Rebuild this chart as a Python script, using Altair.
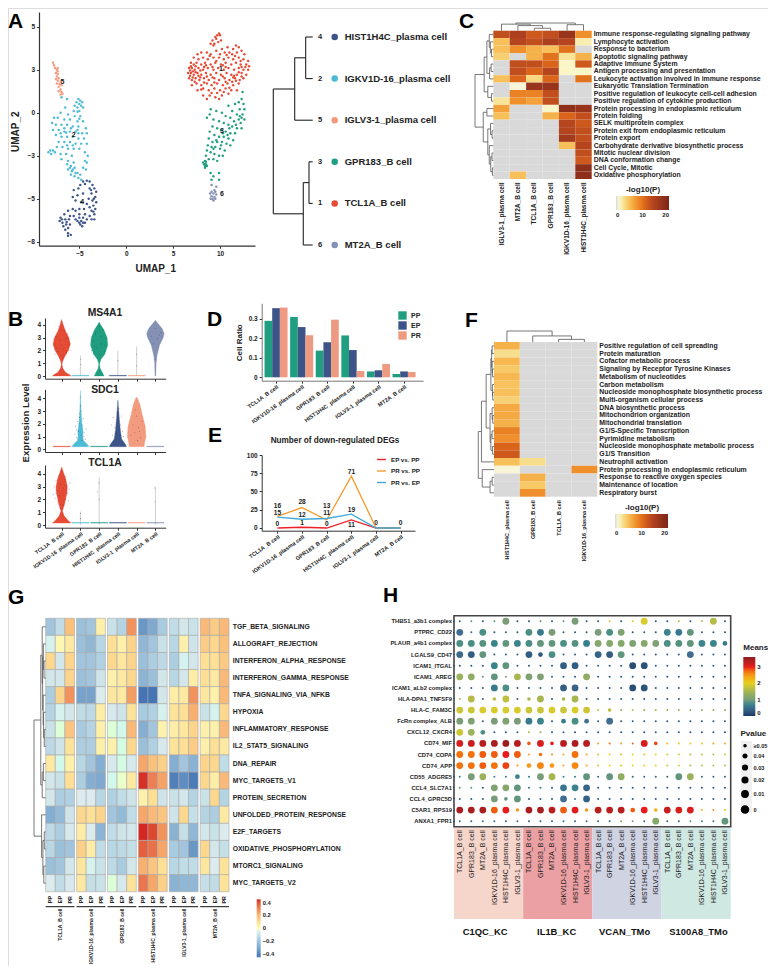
import json
import altair as alt
import pandas as pd

FONT = "Liberation Sans"
W, H = 760, 958
INK = "#222222"

CELLS = ["TCL1A_B cell", "IGKV1D-16_plasma cell", "GPR183_B cell",
         "HIST1H4C_plasma cell", "IGLV3-1_plasma cell", "MT2A_B cell"]
CELL_COLORS = ["#E64B35", "#4DBBD5", "#1F9E80", "#3C5488", "#F39B7F", "#8491B4"]

# ---------- A: UMAP ----------
U_TCL1A = [(9.9,4.6),(9.7,4.5),(10.0,4.5),(9.5,4.4),(9.2,4.2),(9.6,4.3),(10.1,4.2),(9.0,4.0),(9.4,4.0),(9.8,4.1),(9.3,3.9),
 (11.7,3.9),(12.0,3.8),(11.4,3.7),(10.2,3.7),(10.8,3.8),(9.6,3.6),(12.3,3.6),(11.0,3.5),(11.8,3.5),(10.5,3.5),(8.0,3.5),(8.6,3.5),(9.0,3.4),(7.6,3.4),(12.6,3.4),
 (7.2,3.2),(7.7,3.1),(8.2,3.2),(8.7,3.1),(9.3,3.2),(9.9,3.2),(10.4,3.1),(10.9,3.2),(11.4,3.1),(12.0,3.2),(12.5,3.1),(13.0,3.0),
 (6.9,2.9),(7.2,2.8),(7.5,2.9),(8.0,2.8),(8.4,2.9),(9.0,2.8),(9.5,2.9),(10.1,2.8),(10.6,2.9),(11.2,2.8),(11.7,2.9),(12.2,2.8),(12.8,2.8),(13.1,2.7),
 (6.7,2.6),(7.0,2.6),(7.3,2.5),(7.7,2.6),(8.2,2.5),(8.7,2.6),(9.3,2.5),(9.8,2.6),(10.4,2.5),(10.9,2.6),(11.5,2.5),(12.0,2.6),(12.5,2.5),(13.0,2.5),
 (6.6,2.3),(6.9,2.3),(7.2,2.2),(7.6,2.3),(8.0,2.2),(8.5,2.3),(9.0,2.2),(9.6,2.3),(10.1,2.2),(10.7,2.3),(11.2,2.2),(11.8,2.2),(12.3,2.3),(12.8,2.2),
 (6.7,2.0),(7.0,1.9),(7.4,2.0),(7.8,1.9),(8.3,2.0),(8.8,1.9),(9.4,2.0),(9.9,1.9),(10.5,2.0),(11.0,1.9),(11.6,2.0),(12.1,1.9),(12.5,2.0),
 (7.0,1.6),(7.5,1.7),(8.0,1.6),(8.6,1.7),(9.1,1.6),(9.7,1.7),(10.3,1.6),(10.8,1.7),(11.4,1.6),(12.0,1.7),
 (7.6,1.3),(8.2,1.4),(8.8,1.3),(9.4,1.4),(10.0,1.3),(10.6,1.4),(11.2,1.3),(11.8,1.3),
 (8.2,1.0),(8.9,1.0),(9.5,0.9),(10.2,1.0),(10.9,1.1),(8.6,0.8),(9.9,0.8),
 (6.8,2.45),(7.1,2.4),(7.4,2.7),(6.8,2.15),(7.1,2.05),(7.4,2.35),(6.9,2.7),(7.7,2.15),(7.9,2.45),(8.3,2.65),(11.5,2.15),(12.0,2.35),(11.3,1.8),(10.3,2.75),(10.0,3.4),(11.3,3.4),
 (8.9,3.3),(9.6,3.0),(10.7,3.35),(11.6,3.3),(12.2,3.0),(8.5,2.75),(9.2,2.65),(10.6,2.65),(12.3,2.65),(12.7,2.65),(7.9,2.05),(8.6,2.1),(9.2,2.05),(10.3,2.1),(11.4,2.05),(12.3,2.1),(7.3,1.8),(8.3,1.75),(9.4,1.75),(10.6,1.8),(11.7,1.85),(8.0,1.35),(9.1,1.15),(9.7,1.15),(10.4,1.2),(11.0,1.45)]
U_GPR183 = [(12.4,1.2),(12.3,0.8),(12.0,0.6),(11.6,0.5),(12.5,0.5),(10.9,0.4),(12.1,0.2),(12.6,0.2),(11.3,0.1),(9.0,0.2),(9.6,0.1),(10.2,0.0),(8.9,-0.1),(11.8,-0.1),(12.4,-0.1),(10.6,-0.2),(11.1,-0.3),(8.6,-0.3),(9.3,-0.4),(12.0,-0.4),(12.6,-0.4),(9.9,-0.5),(11.5,-0.5),(10.4,-0.6),(10.9,-0.7),(12.2,-0.6),(9.2,-0.8),(9.7,-0.9),(11.3,-0.8),(11.8,-0.9),(12.3,-0.9),(10.1,-1.0),(10.6,-1.1),(8.9,-1.1),(11.1,-1.2),(11.6,-1.2),(9.4,-1.3),(9.9,-1.4),(10.4,-1.4),(8.8,-1.5),(10.9,-1.5),(11.4,-1.6),(9.2,-1.7),(9.7,-1.7),(10.2,-1.7),(10.7,-1.8),(8.7,-1.9),(11.1,-1.9),(9.1,-2.0),(9.5,-2.0),(10.0,-2.1),(10.5,-2.2),(8.6,-2.2),(9.0,-2.3),(9.4,-2.4),(9.9,-2.5),(10.3,-2.5),(8.5,-2.5),(8.8,-2.7),(9.3,-2.7),(9.7,-2.8),(8.4,-2.8),(8.3,-3.0),(8.5,-3.0),(8.4,-3.1),(8.6,-3.1),(8.2,-2.9),(8.5,-2.85),(8.4,-3.2),(9.0,-3.5),(9.9,-3.5),(9.3,-3.7),(9.1,-3.9),(9.9,-3.9),
 (12.1,-0.2),(12.3,-0.3),(11.7,-0.7),(10.8,-1.3),(10.3,-1.2),(9.6,-1.6),(11.0,-0.9),(10.1,-1.9),(9.3,-2.1)]
U_IGKV = [(-6.9,0.9),(-6.3,0.8),(-5.1,0.8),(-4.9,0.7),(-5.3,0.6),(-4.7,0.6),(-5.0,0.5),(-5.5,0.4),(-4.8,0.4),(-5.2,0.3),(-6.5,0.3),(-4.6,0.3),(-5.6,0.1),(-5.0,0.1),(-7.0,0.0),(-6.2,-0.1),(-5.5,-0.2),(-4.9,-0.2),(-7.7,-0.3),(-7.3,-0.3),(-6.6,-0.4),(-6.0,-0.4),(-5.2,-0.5),(-4.6,-0.5),(-7.9,-0.6),(-7.5,-0.7),(-6.9,-0.7),(-6.3,-0.7),(-5.7,-0.8),(-5.1,-0.8),(-4.3,-0.9),(-7.8,-1.0),(-7.2,-1.0),(-6.6,-1.1),(-6.0,-1.1),(-5.4,-1.1),(-4.7,-1.2),(-4.2,-1.2),(-7.5,-1.3),(-6.9,-1.4),(-6.3,-1.4),(-5.7,-1.4),(-5.1,-1.5),(-4.5,-1.5),(-7.2,-1.7),(-6.6,-1.7),(-6.0,-1.7),(-5.4,-1.8),(-4.8,-1.8),(-4.2,-1.8),(-7.4,-2.0),(-6.8,-2.0),(-6.2,-2.1),(-5.6,-2.1),(-5.0,-2.1),(-8.1,-2.2),(-7.8,-2.2),(-8.3,-2.3),(-8.0,-2.4),(-7.6,-2.3),(-7.0,-2.4),(-6.4,-2.4),(-5.8,-2.5),(-4.4,-2.3),(-4.1,-2.5),(-6.9,-2.7),(-6.2,-2.8),(-5.6,-2.9),(-4.2,-2.9),(-4.4,-2.8),(-6.3,-3.0),(-5.9,-3.1),(-5.5,-3.2),(-4.6,-3.2),(-4.3,-3.3),(-6.2,-3.3),(-5.8,-3.4),(-5.4,-3.5),(-4.9,-3.6),(-5.9,-3.6),(-5.5,-3.7),(-5.1,-3.8),(-4.8,-3.9),(-5.7,-3.3),(-5.2,-3.5),(-6.0,-3.2),
 (-6.6,-0.9),(-5.9,-0.9),(-5.2,-1.0),(-6.3,-1.9),(-5.7,-1.9),(-5.1,-1.2),(-7.0,-1.2),(-5.0,-0.35),(-5.2,0.05),(-6.4,-1.15)]
U_HIST = [(-4.6,-4.0),(-4.2,-3.95),(-3.9,-4.0),(-4.9,-4.2),(-3.6,-4.2),(-5.1,-4.4),(-3.4,-4.4),(-3.9,-4.4),(-5.6,-4.5),(-3.2,-4.6),(-3.7,-4.7),(-4.6,-4.7),(-5.2,-4.8),(-3.3,-4.9),(-5.7,-4.9),(-4.0,-5.0),(-3.6,-5.1),(-3.2,-5.2),(-4.8,-5.2),(-5.4,-5.1),(-4.2,-5.3),(-3.5,-5.4),(-3.9,-5.5),(-3.3,-5.6),(-5.7,-5.6),(-5.0,-5.6),(-4.5,-5.6),(-3.7,-5.7),(-6.2,-5.7),(-5.4,-5.7),(-3.4,-5.9),(-5.0,-5.9),(-4.4,-5.9),(-6.6,-5.9),(-6.0,-6.0),(-5.6,-6.0),(-3.9,-6.0),(-3.4,-6.2),(-5.0,-6.1),(-4.6,-6.1),(-7.0,-6.1),(-6.5,-6.2),(-6.1,-6.2),(-5.4,-6.2),(-4.2,-6.2),(-3.7,-6.2),(-5.0,-6.4),(-4.6,-6.4),(-4.9,-6.5),(-4.4,-6.4),(-7.1,-6.3),(-6.8,-6.4),(-6.4,-6.5),(-6.0,-6.5),(-4.7,-6.6),(-6.7,-6.6),(-6.2,-6.7),(-6.5,-6.8),(-6.2,-7.0),(-5.9,-7.1),(-6.2,-7.15),
 (-4.4,-4.15),(-3.75,-4.5),(-3.45,-5.0),(-3.5,-5.75),(-5.2,-6.3),(-4.8,-6.3),(-6.85,-6.2),(-6.35,-6.35)]
U_IGLV = [(-7.8,2.9),(-7.7,2.75),(-7.6,2.6),(-7.3,2.6),(-7.4,2.5),(-7.3,2.4),(-7.5,2.3),(-7.3,2.25),(-7.4,2.1),(-7.2,2.0),(-7.5,1.95),(-7.3,1.85),(-7.0,1.8),(-7.4,1.7),(-7.1,1.65),(-6.9,1.6),(-7.2,1.5),(-7.0,1.35),(-7.2,1.25),(-6.9,1.2),(-7.0,1.05),(-6.8,1.1)]
U_MT2A = [(9.1,-4.2),(9.6,-4.3),(9.4,-4.5),(9.1,-4.6),(9.5,-4.6),(8.95,-4.7),(9.3,-4.7),(9.6,-4.75),(9.1,-4.85),(9.4,-4.9),(9.2,-5.0),(9.5,-5.0),(9.0,-5.0),(9.3,-5.1)]
UMAP_SETS = [U_TCL1A, U_IGKV, U_GPR183, U_HIST, U_IGLV, U_MT2A]
CLUSTER_ID = ["1", "2", "3", "4", "5", "6"]
CLUSTER_LX = [10.1, -5.6, 10.2, -4.7, -6.8, 10.2]
CLUSTER_LY = [2.55, -1.3, -1.05, -5.2, 1.8, -4.75]

TREE_ROWS = ["HIST1H4C_plasma cell", "IGKV1D-16_plasma cell", "IGLV3-1_plasma cell", "GPR183_B cell", "TCL1A_B cell", "MT2A_B cell"]
TREE_IDS = ["4", "2", "5", "3", "1", "6"]
TREE_COLORS = ["#3C5488", "#4DBBD5", "#F39B7F", "#1F9E80", "#E64B35", "#8491B4"]
TREE_A = (1, (.457, (.178, 0, 1), 2), (.239, (.094, 3, 4), 5))

# ---------- B: violins (level, half width) ----------
GENES = ["MS4A1", "SDC1", "TCL1A"]
V_MS4A1 = {
 0: [(0,.5),(.1,.42),(.3,.2),(.6,.06),(.9,.02),(1.1,.04),(1.5,.16),(2,.36),(2.5,.46),(3,.38),(3.5,.2),(4.1,.06),(4.4,0)],
 1: [(0,.46),(.05,.46)],
 2: [(0,.26),(.2,.2),(.6,.05),(.95,.02),(1.3,.1),(1.7,.3),(2.4,.46),(3,.42),(3.6,.25),(4,.08),(4.2,0)],
 3: [(0,.46),(.05,.46)],
 4: [(0,.46),(.05,.46)],
 5: [(0,.02),(.4,.03),(1,.04),(1.6,.09),(2.4,.22),(3,.42),(3.3,.47),(3.7,.36),(4.1,.14),(4.35,0)]}
V_SDC1 = {
 0: [(.2,.46),(.25,.46)],
 1: [(.2,.46),(.4,.36),(.7,.16),(1,.13),(1.4,.14),(2,.08),(2.8,.04),(3.5,.02),(4.6,0)],
 2: [(.2,.46),(.25,.46)],
 3: [(.2,.46),(.4,.4),(.8,.2),(1.5,.13),(2.5,.07),(3.3,.03),(3.85,0)],
 4: [(.2,.4),(.5,.42),(1,.5),(1.8,.46),(2.7,.3),(3.5,.18),(4,.05),(4.1,0)],
 5: [(.2,.46),(.25,.46)]}
V_TCL1A = {
 0: [(.15,.5),(.3,.38),(.7,.14),(1.1,.04),(1.6,.15),(2.5,.28),(3,.3),(3.6,.22),(4.1,.1),(4.55,0)],
 1: [(.15,.46),(.2,.46)],
 2: [(.15,.46),(.2,.46)],
 3: [(.15,.46),(.2,.46)],
 4: [(.15,.46),(.2,.46)],
 5: [(.15,.46),(.2,.46)]}
VIOLINS = [V_MS4A1, V_SDC1, V_TCL1A]
V_SPIKES = [[(1,1.6),(3,1.95),(4,2.3)], [], [(1,1.05),(2,3.75),(5,3.0)]]
V_DOTS = [
 [(-.4,2.4),(-.3,3.1),(-.2,1.9),(-.1,2.8),(0,3.6),(.1,2.1),(.2,2.9),(.3,3.3),(.4,2.5),(-.35,1.7),(-.15,3.9),(.05,1.5),(.25,1.8),(-.05,4.2),(.35,2.9),(-.25,2.2),(.15,3.5),(-.45,2.9),(.45,2.0),(0,2.4),
  (1.02,.9),(1.02,1.3),(1.9,2.2),(2.1,3.1),(1.7,2.7),(2.3,2.4),(2.0,1.7),(2.2,3.6),(1.8,3.3),(1.6,2.0),(2.4,2.9),(2.0,3.9),(1.9,1.4),(2.1,2.5),(1.75,2.3),(2.3,1.9),
  (3.0,1.2),(4.0,1.7),(4.0,.8),(5.0,1.3),(4.8,3.1),(5.1,2.9),(5.3,3.4),(5.0,3.7),(4.9,2.5),(5.2,3.2)],
 [(.7,1.2),(.75,1.8),(.8,.9),(.85,2.2),(.9,1.4),(.95,2.8),(1.0,3.4),(1.05,1.1),(1.1,1.9),(1.15,2.4),(1.2,1.3),(1.25,.8),(1.3,1.6),(.8,1.5),(.92,2.0),(1.08,.7),(1.18,1.0),(1.0,4.1),(.95,2.5),(1.05,3.0),
  (2.7,1.1),(2.8,1.7),(2.9,1.3),(3.0,2.2),(3.05,3.2),(3.1,1.5),(3.2,2.6),(3.3,1.0),(2.75,2.5),(2.85,.8),(3.15,1.9),(2.95,2.9),(3.25,1.4),(2.65,1.9),(3.0,3.7),
  (3.7,1.1),(3.8,1.9),(3.9,1.3),(4.0,2.6),(4.1,1.7),(4.2,.9),(4.3,2.2),(3.95,3.1),(4.05,.7),(4.15,1.4)],
 [(-.45,2.4),(-.4,3.0),(-.35,2.1),(-.3,3.5),(-.25,2.7),(-.2,1.8),(-.15,3.9),(-.1,2.3),(-.05,3.2),(0,4.2),(.05,1.6),(.1,2.9),(.15,3.6),(.2,2.0),(.25,3.1),(.3,2.5),(.35,1.9),(.4,2.8),(.45,3.3),(-.3,2.5),(.2,3.8),(-.05,1.3),
  (1.0,.5),(1.0,.9),(2.0,2.0),(1.9,2.6),(2.0,3.3),(5.0,1.8),(4.95,2.9)]]
V_YAX = [(378.7, 318, -.21, 4.52), (452, 389.3, -.21, 4.7), (527.7, 465, -.21, 4.7)]

# ---------- C / F heat maps ----------
C_COLS = ["IGLV3-1_plasma cell", "MT2A_B cell", "TCL1A_B cell", "GPR183_B cell", "IGKV1D-16_plasma cell", "HIST1H4C_plasma cell"]
C_ROWS = ["Immune response-regulating signaling pathway", "Lymphocyte activation", "Response to bacterium",
 "Apoptotic signaling pathway", "Adaptive Immune System", "Antigen processing and presentation",
 "Leukocyte activation involved in immune response", "Eukaryotic Translation Termination",
 "Positive regulation of leukocyte cell-cell adhesion", "Positive regulation of cytokine production",
 "Protein processing in endoplasmic reticulum", "Protein folding", "SELK multiprotein complex",
 "Protein exit from endoplasmic reticulum", "Protein export", "Carbohydrate derivative biosynthetic process",
 "Mitotic nuclear division", "DNA conformation change", "Cell Cycle, Mitotic", "Oxidative phosphorylation"]
C_VALUES = [[13,15,12,13,17,8],[5,14,13,15,14,2],[5,8,6,5,10,0],[4,0,6,10,2.5,6],[0,13,13,11,1.5,12],
 [0,13,11,14,1.5,1.5],[5,11,3.5,11,0,10],[0,1,17,17,0,0],[0,9,9,13,0,0],[2.5,8,7,13,0,0],
 [7,0,0,1.5,18,17],[5,0,0,6,11,13],[0,0,0,0,14,12],[0,0,0,0,14,13],[0,0,0,0,16,13],[0,0,0,0,5,14],
 [0,0,0,0,0,13],[0,0,0,0,0,12],[0,0,0,0,0,18],[0,5,0,0,0,18]]
C_TOP = (1, (.85, 0, (.66, 1, (.32, 2, 3))), (.78, 4, 5))
C_LEFT = (1, (.5, (.35, (.22, 0, (.16, 1, (.1, 2, 3))), (.2, (.12, 4, 5), 6)), (.3, 7, (.1, 8, 9))),
          (.55, (.35, 10, 11), (.3, (.15, 12, (.07, 13, 14)), (.22, 15, (.14, (.07, 16, 17), (.05, 18, 19))))))

F_COLS = ["HIST1H4C_plasma cell", "GPR183_B cell", "TCL1A_B cell", "IGKV1D-16_plasma cell"]
F_ROWS = ["Positive regulation of cell spreading", "Protein maturation", "Cofactor metabolic process",
 "Signaling by Receptor Tyrosine Kinases", "Metabolism of nucleotides", "Carbon metabolism",
 "Nucleoside monophosphate biosynthetic process", "Multi-organism cellular process", "DNA biosynthetic process",
 "Mitochondrion organization", "Mitochondrial translation", "G1/S-Specific Transcription", "Pyrimidine metabolism",
 "Nucleoside monophosphate metabolic process", "G1/S Transition", "Neutrophil activation",
 "Protein processing in endoplasmic reticulum", "Response to reactive oxygen species", "Maintenance of location",
 "Respiratory burst"]
F_VALUES = [[6,0,0,0],[3,0,0,0],[5.5,0,0,0],[4.5,0,0,0],[5.5,0,0,0],[4.8,0,0,0],[5,0,0,0],[4,0,0,0],[6.5,0,0,0],
 [6.5,0,0,0],[6,0,0,0],[9,0,0,0],[8,0,0,0],[11,0,0,0],[12,0,0,0],[5,3,0,0],[1,0,0,8],[0,6,0,0],[0,4.5,0,0],[0,8,0,0]]
F_TOP = (1, 0, (.55, 1, (.24, 2, 3)))
F_LEFT = (1, (.8, (.5, (.2, (.15, (.12, 0, 1), (.12, 2, (.1, 3, 4))), (.1, 5, (.08, 6, 7))),
                  (.25, (.12, 8, (.08, 9, 10)), (.2, (.12, 11, 12), (.1, 13, 14)))), 15),
          (.75, 16, (.25, (.12, 17, 18), 19)))

# ---------- D / E ----------
D_SERIES = ["PP", "EP", "PR"]
D_COLORS = ["#1F9E80", "#3C5488", "#EE9A80"]
D_PP = [.29, .31, .137, .215, .03, .017]
D_EP = [.355, .258, .18, .14, .036, .03]
D_PR = [.358, .216, .296, .032, .068, .027]

E_SERIES = ["EP vs. PP", "PR vs. PP", "PR vs. EP"]
E_COLORS = ["#F0202A", "#F59B2C", "#3FA9DC"]
E_EP_PP = [0, 1, 0, 11, 0, 0]
E_PR_PP = [16, 28, 11, 71, 0, 0]
E_PR_EP = [15, 12, 13, 19, 0, 0]
E_LABEL_I = [0, 0, 0, 1, 1, 1, 2, 2, 2, 3, 3, 3, 4, 5]
E_LABEL_T = ["16", "15", "0", "28", "12", "1", "13", "11", "0", "71", "19", "11", "0", "0"]
E_LABEL_Y = [30, 21, 5, 35, 17.7, 7, 30, 21, 5.5, 77, 24.5, 4.5, 6.4, 6.4]

# ---------- G ----------
G_ROWS = ["TGF_BETA_SIGNALING", "ALLOGRAFT_REJECTION", "INTERFERON_ALPHA_RESPONSE", "INTERFERON_GAMMA_RESPONSE",
 "TNFA_SIGNALING_VIA_NFKB", "HYPOXIA", "INFLAMMATORY_RESPONSE", "IL2_STAT5_SIGNALING", "DNA_REPAIR", "MYC_TARGETS_V1",
 "PROTEIN_SECRETION", "UNFOLDED_PROTEIN_RESPONSE", "E2F_TARGETS", "OXIDATIVE_PHOSPHORYLATION", "MTORC1_SIGNALING", "MYC_TARGETS_V2"]
G_VALUES = [
 [-.2,-.12,.18,-.22,-.2,.05,-.1,-.15,.28,-.35,-.3,-.18,-.12,-.08,-.1,.2,.15,.2],
 [-.05,.03,.07,-.22,-.25,-.14,.1,.05,.13,-.25,-.2,-.1,-.14,.05,-.09,.15,.12,.18],
 [.12,-.08,.13,-.2,-.2,-.16,.12,.08,.13,-.22,-.17,-.13,-.17,-.05,-.08,.1,.1,.16],
 [-.08,-.08,.13,-.22,-.2,-.09,.05,.07,.12,-.26,-.22,-.08,-.14,-.08,.06,.1,.07,.2],
 [-.17,.13,.28,-.32,-.32,-.06,.08,.07,.26,-.45,-.45,-.08,.06,.07,.28,.08,.05,.2],
 [-.15,-.05,-.08,-.12,-.13,.06,-.07,-.09,.09,-.18,-.16,-.05,.09,.1,.22,-.1,-.05,.12],
 [-.1,-.02,.17,-.18,-.15,.05,-.02,-.04,.2,-.28,-.2,.04,.06,.08,.13,.05,.05,.2],
 [-.13,-.09,.09,-.17,-.17,.05,.05,-.03,.12,-.22,-.16,-.07,.09,.1,.15,.05,.1,.07],
 [.07,-.04,.05,-.14,-.2,-.28,-.07,-.03,-.07,.24,.18,.14,-.28,-.2,-.27,.13,.12,-.12],
 [-.08,-.1,.1,-.17,-.28,-.3,-.04,-.01,.07,.45,.32,.25,-.42,-.38,-.43,.12,.06,.2],
 [-.08,-.17,-.16,-.06,-.06,-.14,-.16,-.12,-.09,.05,.1,-.09,-.1,-.08,-.15,-.1,.12,-.15],
 [-.28,-.24,-.09,.12,.1,.13,-.2,-.24,-.12,.24,.2,.17,-.09,.12,-.11,-.15,-.17,.07],
 [-.13,-.17,-.07,.06,-.06,-.26,-.12,-.09,-.08,.46,.42,.28,-.27,-.11,-.25,-.08,-.1,-.06],
 [-.14,-.22,-.2,.14,.06,-.12,-.14,-.13,-.11,.38,.35,.24,-.18,-.2,-.35,.12,-.08,-.11],
 [-.22,-.2,-.08,.08,-.05,-.1,-.13,-.18,-.08,.22,.17,.1,-.14,-.12,-.12,.08,-.06,.09],
 [-.06,-.12,-.07,.07,-.11,-.1,-.02,-.07,.09,.34,.24,.14,-.27,-.25,-.25,-.11,-.12,.09]]
G_LEFT = (1, (.42, (.3, 0, (.26, (.2, 1, (.14, 2, 3)), (.22, 4, (.18, 5, (.12, 6, 7))))), (.3, (.2, 8, 9), 10)),
          (.35, 11, (.24, (.12, 12, 13), (.16, 14, 15))))
G_GAP = .22
G_CONDS = ["PP", "EP", "PR"]

# ---------- H ----------
H_CELLS = ["TCL1A_B cell", "GPR183_B cell", "MT2A_B cell", "IGKV1D-16_plasma cell", "HIST1H4C_plasma cell", "IGLV3-1_plasma cell"]
H_GROUPS = ["C1QC_KC", "IL1B_KC", "VCAN_TMo", "S100A8_TMo"]
H_GROUP_COLORS = ["#F6D5CB", "#EBA0A3", "#CFD3E2", "#CFE8E2"]
H_ROWS = ["THBS1_a3b1 complex", "PTPRC_CD22", "PLAUR_a4b1 complex", "LGALS9_CD47", "ICAM1_ITGAL", "ICAM1_AREG",
 "ICAM1_aLb2 complex", "HLA-DPA1_TNFSF9", "HLA-C_FAM3C", "FcRn complex_ALB", "CXCL12_CXCR4", "CD74_MIF", "CD74_COPA",
 "CD74_APP", "CD55_ADGRE5", "CCL4_SLC7A1", "CCL4_GPRC5D", "C5AR1_RPS19", "ANXA1_FPR1"]
D = .3
H_MEANS = [
 [D,.9,D,.9,1.0,D,D,.9,D,.9,1.0,D,D,1.9,D,1.9,1.9,D,D,1.6,D,1.6,1.6,D],
 [.5,.4,.8,D,D,D,.8,.6,1.0,D,D,D,1.0,.8,1.1,D,D,D,.7,.6,.9,D,D,D],
 [.8,.8,.85,.7,.9,.7,.8,.9,.9,.8,.85,.65,1.2,1.2,1.2,1.1,1.2,1.1,.8,.85,.9,.7,.7,.6],
 [.45,.35,.9,D,D,D,.35,.3,.8,D,D,D,.4,.35,.9,D,D,D,D,D,.5,D,D,D],
 [D,D,D,.7,.9,D,D,D,D,.35,.35,D,D,D,D,.2,.25,D,D,D,D,D,D,D],
 [1.4,1.3,.9,.9,1.0,1.5,1.1,1.1,D,D,D,1.3,D,D,D,D,D,D,D,D,D,D,D,D],
 [D,D,D,.6,.8,D,D,D,D,.35,.4,D,D,D,D,.2,.25,D,D,D,D,D,D,D],
 [1.5,1.6,D,1.6,1.7,D,1.5,1.5,D,1.5,1.5,D,D,D,D,D,D,D,D,D,D,D,D,D],
 [1.8,1.8,1.9,1.9,1.9,1.9,1.8,1.8,1.9,1.8,1.9,1.8,1.7,1.7,1.3,1.6,1.3,1.4,1.4,1.4,1.3,1.3,1.3,1.3],
 [1.0,1.1,D,1.0,1.1,1.0,.6,.7,D,.6,.8,.5,D,.5,D,D,D,D,D,D,D,D,D,D],
 [1.8,1.4,.8,D,D,D,1.5,1.3,D,D,D,D,D,D,D,D,D,D,D,D,D,D,D,D],
 [3.1,3.2,3.3,3.4,3.5,3.3,2.8,3.1,3.0,3.3,3.4,3.3,2.5,2.7,2.5,2.8,3.1,2.9,2.2,2.1,2.0,2.1,2.5,2.4],
 [2.7,2.7,2.8,2.8,3.0,2.8,2.5,2.7,2.6,2.4,2.7,2.4,2.1,2.0,2.2,2.0,2.1,2.0,1.9,1.9,1.7,1.8,1.6,1.8],
 [2.7,2.7,2.8,2.7,2.9,2.6,2.5,2.6,2.5,2.4,2.6,2.4,2.1,2.0,2.1,2.0,2.0,2.0,1.8,1.9,1.6,1.7,1.6,1.6],
 [.6,1.0,1.4,.7,.6,.7,.6,1.0,1.5,.6,.6,.9,.4,.9,1.3,.4,.4,.4,.4,.9,1.4,.4,.4,.4],
 [.9,.9,D,1.1,1.2,.9,.5,.5,D,.55,.7,.4,D,D,D,D,D,D,D,D,D,D,D,D],
 [D,D,D,1.0,.9,.9,D,D,D,.5,.6,.4,D,D,D,D,D,D,D,D,D,D,D,D],
 [3.4,3.4,3.4,2.8,3.0,2.5,3.4,3.4,3.3,2.8,3.05,2.5,3.3,3.3,3.3,2.8,3.0,2.3,3.2,3.1,3.1,2.3,2.6,2.2],
 [.4,.4,.5,.5,.4,.5,.4,.4,.5,.5,.4,.5,.4,.4,1.1,1.0,.4,1.2,.4,.4,.9,.7,.5,.9]]
T, S, M, B = .05, .04, .03, .004
H_PVALS = [
 [T,T,T,T,B,T,T,T,T,T,B,T,T,T,T,T,B,T,T,T,T,T,B,T],
 [B,T,B,T,T,T,B,B,B,T,T,T,B,B,B,T,T,T,B,B,B,T,T,T],
 [B,B,B,B,B,B,B,B,B,B,B,B,B,B,B,B,B,B,B,B,B,B,B,M],
 [B,B,B,T,T,T,B,M,B,T,T,T,B,B,B,T,T,T,T,T,B,T,T,T],
 [T,T,T,B,B,T,T,T,T,B,B,T,T,T,T,B,B,T,T,T,T,T,T,T],
 [B,B,T,B,T,B,B,B,T,T,T,B,T,T,T,T,T,T,T,T,T,T,T,T],
 [T,T,T,B,B,T,T,T,T,B,B,T,T,T,T,B,B,T,T,T,T,T,T,T],
 [T,B,T,S,B,T,S,B,T,S,B,T,T,T,T,T,T,T,T,T,T,T,T,T],
 [B,B,B,B,B,B,B,B,B,B,B,B,T,S,T,T,T,T,T,T,T,T,T,T],
 [B,B,T,B,B,B,B,B,T,M,B,M,T,B,T,T,T,T,T,T,T,T,T,T],
 [B,B,M,T,T,T,T,T,T,T,T,T,T,T,T,T,T,T,T,T,T,T,T,T],
 [B,B,B,B,B,B,S,B,S,B,B,B,T,T,T,T,B,S,T,T,T,T,T,T],
 [B,B,B,B,B,B,T,S,T,T,B,T,T,T,T,T,T,T,T,T,T,T,T,T],
 [B,B,B,B,B,T,M,B,M,T,B,T,T,T,T,T,T,T,T,T,T,T,T,T],
 [T,B,B,T,T,M,T,B,B,T,T,B,T,B,B,T,T,T,T,B,B,T,T,T],
 [T,T,T,B,B,B,T,T,T,B,B,B,T,T,T,T,T,T,T,T,T,T,T,T],
 [T,T,T,B,S,B,T,T,T,B,T,B,T,T,T,T,T,T,T,T,T,T,T,T],
 [B,B,B,B,B,S,B,B,B,B,B,S,B,B,B,M,B,S,B,B,B,T,T,T],
 [T,T,T,T,T,T,T,T,T,T,T,T,T,T,T,T,T,B,T,T,T,T,T,B]]

# ---------- helpers ----------
ONE = pd.DataFrame({"k": [0]})


def xr(dom, a, b):
    return alt.Scale(domain=dom, range=[a - 8, b - 8], nice=False, zero=False)


def yr(dom, bottom, top):
    return alt.Scale(domain=dom, range=[bottom - 8, top - 8], nice=False, zero=False)


def txt(s, x, y, size, weight="bold", angle=0, align="left", baseline="alphabetic", color=INK):
    return alt.Chart(pd.DataFrame({"t": [s]})).mark_text(
        font=FONT, fontSize=size, fontWeight=weight, angle=angle, align=align, baseline=baseline, color=color
    ).encode(x=alt.value(x - 8), y=alt.value(y - 8), text="t:N")


def xaxis(y, **kw):
    base = dict(orient="bottom", offset=y - 8 - H, grid=False, title=None, labelFont=FONT, labelColor=INK,
                labelFontWeight="bold", labelOverlap=False, labelFlush=False, labelLimit=300,
                domainColor="#333333", tickColor="#333333", tickSize=2.5)
    base.update(kw)
    return alt.Axis(**base)


def yaxis(x, **kw):
    base = dict(orient="left", offset=-(x - 8), grid=False, title=None, labelFont=FONT, labelColor=INK,
                labelFontWeight="bold", labelOverlap=False, labelLimit=300,
                domainColor="#333333", tickColor="#333333", tickSize=2.5)
    base.update(kw)
    return alt.Axis(**base)


def tree_segments(t):
    """Walk a nested (height, left, right) merge tree into drawn segments."""
    segs = []

    def walk(node):
        if not isinstance(node, tuple):
            return float(node), 0.0
        h, l, r = node
        pl, hl = walk(l)
        pr, hr = walk(r)
        segs.append(dict(p=pl, p2=pr, h=h, h2=h))
        segs.append(dict(p=pl, p2=pl, h=hl, h2=h))
        segs.append(dict(p=pr, p2=pr, h=hr, h2=h))
        return (pl + pr) / 2, h

    walk(t)
    return pd.DataFrame(segs)


def left_tree(t, n, x_far, x_near, y0, y1, color="#555555", width=.8):
    return alt.Chart(tree_segments(t)).mark_rule(color=color, strokeWidth=width).encode(
        x=alt.X("h:Q", scale=xr([0, 1], x_near, x_far), axis=None),
        x2="h2:Q",
        y=alt.Y("p:Q", scale=yr([n - .5, -.5], y1, y0), axis=None),
        y2="p2:Q")


def top_tree(t, n, y_far, y_near, x0, x1, color="#555555", width=.8):
    return alt.Chart(tree_segments(t)).mark_rule(color=color, strokeWidth=width).encode(
        x=alt.X("p:Q", scale=xr([-.5, n - .5], x0, x1), axis=None),
        x2="p2:Q",
        y=alt.Y("h:Q", scale=yr([0, 1], y_near, y_far), axis=None),
        y2="h2:Q")


METASCAPE = alt.Scale(domain=[0, 1.2, 2.5, 5, 8, 11, 14, 20],
                      range=["#D9D9D9", "#FCFBD6", "#F8E59A", "#F8C05A", "#F0902C", "#D9641A", "#B5451F", "#7B2518"])


def metascape_heat(rows, cols, values, x0, x1, y0, y1, lx, ly, label_size, col_size):
    df = pd.DataFrame([dict(r=r, c=c, v=values[i][j]) for i, r in enumerate(rows) for j, c in enumerate(cols)])
    return alt.Chart(df).mark_rect().encode(
        x=alt.X("c:N", sort=cols,
                scale=alt.Scale(type="band", domain=cols, range=[x0 - 8, x1 - 8], paddingInner=0, paddingOuter=0),
                axis=xaxis(y1 + 1, ticks=False, domain=False, labelAngle=270, labelFontSize=col_size, labelPadding=2)),
        y=alt.Y("r:N", sort=rows,
                scale=alt.Scale(type="band", domain=rows, range=[y0 - 8, y1 - 8], paddingInner=0, paddingOuter=0),
                axis=alt.Axis(orient="right", offset=(x1 + 1.5 - 8) - W, grid=False, title=None, ticks=False, domain=False,
                              labelFont=FONT, labelFontWeight="bold", labelColor=INK, labelFontSize=label_size,
                              labelOverlap=False, labelLimit=400, labelPadding=0)),
        color=alt.Color("v:Q", scale=METASCAPE, legend=alt.Legend(
            orient="none", legendX=lx - 8, legendY=ly - 8, direction="horizontal", title="-log10(P)",
            titleFont=FONT, titleFontSize=8, titleFontWeight="bold", titleAnchor="middle", titlePadding=2,
            gradientLength=53, gradientThickness=14, values=[0, 10, 20], labelFont=FONT, labelFontSize=6,
            labelFontWeight="bold", labelColor=INK, titleColor=INK)))


layers = []

# ---------- panel letters ----------
for s, x, y in [("A", 8, 28), ("C", 459, 28), ("B", 8, 326), ("D", 207, 326), ("E", 208, 442), ("F", 465, 327),
                ("G", 8, 604), ("H", 383, 602)]:
    layers.append(txt(s, x, y, 21, color="black"))

# ---------- A ----------
umap_df = pd.DataFrame([dict(x=p[0], y=p[1], c=CELLS[i]) for i, pts in enumerate(UMAP_SETS) for p in pts])
ax_ux = xr([-9.3, 13.73], 39, 255)
ax_uy = yr([-7.73, 5.85], 245.7, 12)
layers.append(alt.Chart(umap_df).mark_circle(size=6, opacity=1).encode(
    x=alt.X("x:Q", scale=ax_ux, axis=xaxis(245.7, values=[-5, 0, 5, 10], labelFontSize=6.5, domainWidth=1.2, labelPadding=2)),
    y=alt.Y("y:Q", scale=ax_uy, axis=yaxis(39, values=[-7.5, -5, -2.5, 0, 2.5, 5], format="~g", labelFontSize=6.5, domainWidth=1.2, labelPadding=2)),
    color=alt.Color("c:N", scale=alt.Scale(domain=CELLS, range=CELL_COLORS), legend=None)))
layers.append(alt.Chart(pd.DataFrame(dict(t=CLUSTER_ID, x=CLUSTER_LX, y=CLUSTER_LY))).mark_text(
    font=FONT, fontSize=7, fontWeight="bold", color="#111111").encode(
    x=alt.X("x:Q", scale=ax_ux, axis=None), y=alt.Y("y:Q", scale=ax_uy, axis=None), text="t:N"))
layers.append(txt("UMAP_1", 155.7, 272, 10, align="center"))
layers.append(txt("UMAP_2", 19, 131.7, 10, angle=270, align="center"))

# tree
layers.append(left_tree(TREE_A, 6, 273.3, 312.7, 16.2, 265.8, color="#222222", width=1.1))
tree_df = pd.DataFrame(dict(r=list(range(6)), name=TREE_ROWS, id=TREE_IDS))
tree_y = alt.Y("r:Q", scale=yr([5.5, -.5], 265.8, 16.2), axis=None)
layers.append(alt.Chart(tree_df).mark_text(font=FONT, fontSize=7.5, fontWeight="bold", color=INK).encode(
    x=alt.value(320 - 8), y=tree_y, text="id:N"))
layers.append(alt.Chart(tree_df).mark_circle(size=42, opacity=1).encode(
    x=alt.value(334.7 - 8), y=tree_y,
    color=alt.Color("name:N", scale=alt.Scale(domain=TREE_ROWS, range=TREE_COLORS), legend=None)))
layers.append(alt.Chart(tree_df).mark_text(font=FONT, fontSize=9.5, fontWeight="bold", color=INK, align="left").encode(
    x=alt.value(344.7 - 8), y=tree_y, text="name:N"))

# ---------- C ----------
layers.append(metascape_heat(C_ROWS, C_COLS, C_VALUES, 493.3, 591.7, 30.7, 179, 616, 186, 6.9, 6.5))
layers.append(top_tree(C_TOP, 6, 23, 30.7, 493.3, 591.7))
layers.append(left_tree(C_LEFT, 20, 475, 493.3, 30.7, 179))

# ---------- F ----------
layers.append(metascape_heat(F_ROWS, F_COLS, F_VALUES, 494, 597.3, 342, 496.7, 615, 504, 6.9, 5.5))
layers.append(top_tree(F_TOP, 4, 331, 342, 494, 597.3))
layers.append(left_tree(F_LEFT, 20, 478.3, 494, 342, 496.7))

# ---------- B ----------
cell_x = alt.Scale(domain=[-.89, 5.55], range=[45 - 8, 165.7 - 8], nice=False, zero=False)
for g, gene in enumerate(GENES):
    bottom, top, d0, d1 = V_YAX[g]
    ysc = yr([d0, d1], bottom, top)
    last = g == 2
    xax = xaxis(bottom, values=list(range(6)), labelFontSize=5.3, labelAngle=-35, labelAlign="right", labelBaseline="top",
                labelPadding=1, domainWidth=1,
                labelExpr=json.dumps(CELLS) + "[datum.value]") if last else xaxis(bottom, values=list(range(6)), labels=False, domainWidth=1)
    yax = yaxis(45, values=[0, 1, 2, 3, 4], labelFontSize=6.5, domainWidth=1, labelPadding=2)
    if V_SPIKES[g]:
        sdf = pd.DataFrame(dict(x=[p[0] for p in V_SPIKES[g]], y0=[d0 + .21] * len(V_SPIKES[g]), y1=[p[1] for p in V_SPIKES[g]]))
        layers.append(alt.Chart(sdf).mark_rule(color="#C4C4C4", strokeWidth=.8).encode(
            x=alt.X("x:Q", scale=cell_x, axis=None), y=alt.Y("y0:Q", scale=ysc, axis=None), y2="y1:Q"))
    for n, (c, prof) in enumerate(VIOLINS[g].items()):
        vdf = pd.DataFrame([dict(lv=lv, lo=c - w, hi=c + w) for lv, w in prof])
        layers.append(alt.Chart(vdf).mark_area(orient="horizontal", color=CELL_COLORS[c], stroke=CELL_COLORS[c], strokeWidth=.3).encode(
            x=alt.X("lo:Q", scale=cell_x, axis=xax if n == 0 else None),
            x2="hi:Q",
            y=alt.Y("lv:Q", scale=ysc, axis=yax if n == 0 else None)))
    ddf = pd.DataFrame(V_DOTS[g], columns=["x", "y"])
    layers.append(alt.Chart(ddf).mark_circle(size=1.2, color="#333333", opacity=.45).encode(
        x=alt.X("x:Q", scale=cell_x, axis=None), y=alt.Y("y:Q", scale=ysc, axis=None)))
layers.append(txt("MS4A1", 105, 315.5, 10.4, align="center"))
layers.append(txt("SDC1", 105, 393, 10.4, align="center"))
layers.append(txt("TCL1A", 105, 465.5, 10.4, align="center"))
layers.append(txt("Expression Level", 29, 423, 9.6, angle=270, align="center"))

# ---------- D ----------
d_rows = []
for k, (name, vals) in enumerate(zip(D_SERIES, [D_PP, D_EP, D_PR])):
    for i, v in enumerate(vals):
        d_rows.append(dict(s=name, lo=i - .45 + k * .3, hi=i - .15 + k * .3, v=v, z=0))
d_df = pd.DataFrame(d_rows)
layers.append(alt.Chart(d_df).mark_rect().encode(
    x=alt.X("lo:Q", scale=xr([-.56, 5.74], 261.7, 423),
            axis=xaxis(380.7, values=list(range(6)), labelFontSize=5.6, labelAngle=-35, labelAlign="right", labelBaseline="top",
                       labelPadding=1, domainWidth=1, domainColor="#777777",
                       labelExpr=json.dumps(CELLS) + "[datum.value]")),
    x2="hi:Q",
    y=alt.Y("z:Q", scale=yr([-.0175, .38], 380.7, 303.3),
            axis=yaxis(261.7, values=[0, .1, .2, .3], format="~g", labelFontSize=6.5, domainWidth=1, domainColor="#777777", labelPadding=2)),
    y2="v:Q",
    color=alt.Color("s:N", scale=alt.Scale(domain=D_SERIES, range=D_COLORS), legend=alt.Legend(
        orient="none", legendX=398 - 8, legendY=311 - 8, title=None, symbolType="square", symbolSize=70,
        labelFont=FONT, labelFontSize=7, labelFontWeight="bold", labelColor=INK, rowPadding=1, symbolStrokeWidth=0))))
layers.append(txt("Cell Ratio", 241.5, 342.7, 8, angle=270, align="center"))

# ---------- E ----------
e_rows = []
for name, vals in zip(E_SERIES, [E_EP_PP, E_PR_PP, E_PR_EP]):
    for i, v in enumerate(vals):
        e_rows.append(dict(s=name, i=i, v=v))
e_x = xr([-.637, 5.58], 261.7, 415)
e_y = yr([-3.7, 100], 530.7, 455)
layers.append(alt.Chart(pd.DataFrame(e_rows)).mark_line(strokeWidth=1.3).encode(
    x=alt.X("i:Q", scale=e_x, axis=xaxis(530.7, values=list(range(6)), labelFontSize=5.6, labelAngle=-35, labelAlign="right",
                                          labelBaseline="top", labelPadding=1, domainWidth=1,
                                          labelExpr=json.dumps(CELLS) + "[datum.value]")),
    y=alt.Y("v:Q", scale=e_y, axis=yaxis(261.7, values=[0, 25, 50, 75, 100], labelFontSize=6.5, domainWidth=1, labelPadding=2)),
    color=alt.Color("s:N", scale=alt.Scale(domain=E_SERIES, range=E_COLORS), legend=alt.Legend(
        orient="none", legendX=376 - 8, legendY=454 - 8, title=None, symbolType="stroke", symbolSize=80, symbolStrokeWidth=1.4,
        labelFont=FONT, labelFontSize=6.2, labelFontWeight="bold", labelColor=INK, rowPadding=2.5))))
layers.append(alt.Chart(pd.DataFrame(dict(i=E_LABEL_I, t=E_LABEL_T, y=E_LABEL_Y))).mark_text(
    font=FONT, fontSize=6.6, fontWeight="bold", color=INK).encode(
    x=alt.X("i:Q", scale=e_x, axis=None), y=alt.Y("y:Q", scale=e_y, axis=None), text="t:N"))
layers.append(txt("Number of down-regulated DEGs", 335, 442.5, 8.2, align="center"))

# ---------- G ----------
g_rows = []
g_cond = []
g_group = []
for gi, cell in enumerate(CELLS):
    start = gi * (3 + G_GAP)
    g_group.append(dict(c=cell, a=start, b=start + 3, m=start + 1.5))
    for k, cond in enumerate(G_CONDS):
        g_cond.append(dict(t=cond, x=start + k + .5))
        for ri, r in enumerate(G_ROWS):
            g_rows.append(dict(r=r, lo=start + k, hi=start + k + 1, v=G_VALUES[ri][gi * 3 + k]))
g_x = xr([0, 18 + 5 * G_GAP], 45.7, 229)
layers.append(alt.Chart(pd.DataFrame(g_rows)).mark_rect(stroke="#A8A8A8", strokeWidth=.6).encode(
    x=alt.X("lo:Q", scale=g_x, axis=None),
    x2="hi:Q",
    y=alt.Y("r:N", sort=G_ROWS, scale=alt.Scale(type="band", domain=G_ROWS, range=[618.3 - 8, 891.7 - 8], paddingInner=0, paddingOuter=0),
            axis=alt.Axis(orient="right", offset=(232.3 - 8) - W, grid=False, title=None, ticks=False, domain=False,
                          labelFont=FONT, labelFontWeight="bold", labelColor=INK, labelFontSize=6.8, labelOverlap=False,
                          labelLimit=400, labelPadding=0)),
    color=alt.Color("v:Q", scale=alt.Scale(domain=[-.45, -.3, -.18, -.06, 0, .09, .2, .32, .45],
                                           range=["#4575B4", "#7FA9CF", "#A9CBE0", "#DCECEE", "#FFFFC0", "#FDE39A", "#F9B978", "#EE7F54", "#D73027"]),
                    legend=alt.Legend(orient="none", legendX=256.7 - 8, legendY=899.3 - 8, title=None, gradientLength=58,
                                      gradientThickness=4, values=[-.4, -.2, 0, .2, .4], labelFont=FONT, labelFontSize=5.8,
                                      labelFontWeight="bold", labelColor=INK, labelExpr="replace(format(datum.value,'~g'),'-','\u2212')"))))
layers.append(left_tree(G_LEFT, 16, 34, 45.7, 618.3, 891.7))
layers.append(alt.Chart(pd.DataFrame(g_cond)).mark_text(
    font=FONT, fontSize=5.4, fontWeight="bold", color=INK, angle=270, align="right", baseline="middle").encode(
    x=alt.X("x:Q", scale=g_x, axis=None), y=alt.value(896 - 8), text="t:N"))
layers.append(alt.Chart(pd.DataFrame(g_group)).mark_rule(color="#111111", strokeWidth=1).encode(
    x=alt.X("a:Q", scale=g_x, axis=None), x2="b:Q", y=alt.value(906.7 - 8)))
layers.append(alt.Chart(pd.DataFrame(g_group)).mark_text(
    font=FONT, fontSize=5.0, fontWeight="bold", color=INK, angle=270, align="right", baseline="middle").encode(
    x=alt.X("m:Q", scale=g_x, axis=None), y=alt.value(908.5 - 8), text="c:N"))

# ---------- H ----------
h_x = xr([-.5, 23.5], 454, 730.7)
bg_df = pd.DataFrame(dict(g=H_GROUPS, a=[-.5, 5.5, 11.5, 17.5], b=[5.5, 11.5, 17.5, 23.5], m=[2.2, 8.4, 14.3, 20.7]))
layers.append(alt.Chart(bg_df).mark_rect().encode(
    x=alt.X("a:Q", scale=h_x, axis=None), x2="b:Q", y=alt.value(827.7 - 8), y2=alt.value(919 - 8),
    color=alt.Color("g:N", scale=alt.Scale(domain=H_GROUPS, range=H_GROUP_COLORS), legend=None)))
layers.append(alt.Chart(bg_df).mark_text(font=FONT, fontSize=9.4, fontWeight="bold", color="#111111").encode(
    x=alt.X("m:Q", scale=h_x, axis=None), y=alt.value(932 - 8), text="g:N"))
layers.append(alt.Chart(ONE).mark_rect(fill="#F0F0F0").encode(
    x=alt.value(741 - 8), x2=alt.value(752 - 8), y=alt.value(741 - 8), y2=alt.value(813 - 8)))
h_rows = []
for ri, r in enumerate(H_ROWS):
    for ci in range(24):
        h_rows.append(dict(r=r, c=ci, m=H_MEANS[ri][ci], p=H_PVALS[ri][ci]))
layers.append(alt.Chart(pd.DataFrame(h_rows)).mark_circle(opacity=1).encode(
    x=alt.X("c:Q", scale=h_x, axis=xaxis(826.7, values=list(range(24)), ticks=False, domain=False, labelFontSize=7, labelAngle=270,
                                          labelPadding=3, labelFontWeight="normal", zindex=1,
                                          labelExpr=json.dumps(H_CELLS) + "[datum.value % 6]")),
    y=alt.Y("r:N", sort=H_ROWS, scale=alt.Scale(type="band", domain=H_ROWS, range=[615.7 - 8, 826.7 - 8], paddingInner=0, paddingOuter=0),
            axis=yaxis(454, labelFontSize=5.8, tickSize=1.5, domain=False, labelPadding=1)),
    color=alt.Color("m:Q", scale=alt.Scale(domain=[0, .5, 1, 1.5, 2, 2.5, 3, 3.6],
                                           range=["#1B3A63", "#3F6E90", "#7A9C78", "#A8B650", "#E6CF1E", "#F59A1B", "#E81C1C", "#8B1E1E"]),
                    legend=alt.Legend(orient="none", legendX=743.3 - 8, legendY=644 - 8, title="Means", titleFont=FONT, titleFontSize=8,
                                      titleFontWeight="bold", titleColor=INK, gradientLength=59, gradientThickness=12,
                                      values=[0, 1, 2, 3], labelFont=FONT, labelFontSize=6, labelFontWeight="bold", labelColor=INK)),
    size=alt.Size("p:Q", scale=alt.Scale(domain=[0, .05], range=[50, 4]),
                  legend=alt.Legend(orient="none", legendX=740.5 - 8, legendY=730 - 8, title="Pvalue", titleFont=FONT, titleFontSize=8,
                                    titleFontWeight="bold", titleColor=INK, values=[.05, .04, .03, .02, .01, 0],
                                    symbolFillColor="black", symbolStrokeColor="black", labelFont=FONT, labelFontSize=5.6,
                                    labelFontWeight="bold", labelColor=INK, rowPadding=1,
                                    labelExpr="datum.value == 0.05 ? '\u22650.05' : format(datum.value,'~g')"))))
layers.append(alt.Chart(ONE).mark_rect(fill=None, stroke="#444444", strokeWidth=1.6).encode(
    x=alt.value(454 - 8), x2=alt.value(730.7 - 8), y=alt.value(615.7 - 8), y2=alt.value(826.7 - 8)))

chart = alt.layer(*layers).resolve_scale(
    x="independent", y="independent", color="independent", size="independent"
).properties(width=W, height=H, padding=0, autosize=alt.AutoSizeParams(type="none")
).configure_view(stroke=None).configure(background="white")

chart.save("out.html", embed_options={"renderer": "svg", "actions": False})
